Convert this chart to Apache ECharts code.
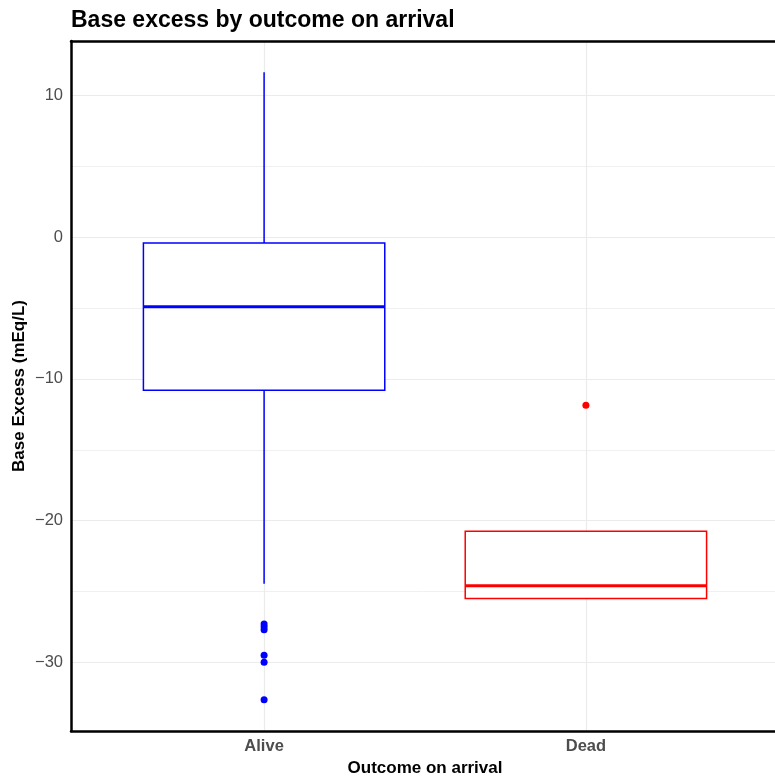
<!DOCTYPE html>
<html>
<head>
<meta charset="utf-8">
<script src="https://cdn.jsdelivr.net/npm/echarts@6/dist/echarts.min.js"></script>
<style>
  html, body { margin: 0; padding: 0; background: #fff; }
  #main { width: 775px; height: 781px; }
</style>
</head>
<body>
<div id="main"></div>
<script>
// categories and box stats: [min, Q1, median, Q3, max]
var categories = ['Alive', 'Dead'];
var boxColors = ['#0000FF', '#FF0000'];
var aliveBox = [-24.45, -10.8, -4.9, -0.4, 11.65];
var deadBox = [-25.5, -25.5, -24.6, -20.75, -20.75];
var aliveOutliers = [-27.3, -27.5, -27.7, -29.5, -30.0, -32.65];
var deadOutliers = [-11.85];
var yMin = -34.85;
var yMax = 13.85;

var fontFamily = '"Liberation Sans", Arial, Helvetica, sans-serif';
var frameLine = { show: true, onZero: false, lineStyle: { color: '#000', width: 2.5 } };

// box 그리기
function renderBox(params, api) {
  var x = api.value(0);
  var color = boxColors[x - 1];
  var half = api.size([0.75, 0])[0] / 2;
  var pMin = api.coord([x, api.value(1)]);
  var pQ1 = api.coord([x, api.value(2)]);
  var pMed = api.coord([x, api.value(3)]);
  var pQ3 = api.coord([x, api.value(4)]);
  var pMax = api.coord([x, api.value(5)]);
  var thin = { stroke: color, lineWidth: 1.5, fill: null };
  return {
    type: 'group',
    children: [
      { type: 'line', shape: { x1: pMax[0], y1: pMax[1], x2: pQ3[0], y2: pQ3[1] }, style: thin },
      { type: 'line', shape: { x1: pQ1[0], y1: pQ1[1], x2: pMin[0], y2: pMin[1] }, style: thin },
      {
        type: 'rect',
        shape: { x: pQ3[0] - half, y: pQ3[1], width: half * 2, height: pQ1[1] - pQ3[1] },
        style: { fill: '#fff', stroke: color, lineWidth: 1.5 }
      },
      {
        type: 'line',
        shape: { x1: pMed[0] - half, y1: pMed[1], x2: pMed[0] + half, y2: pMed[1] },
        style: { stroke: color, lineWidth: 3 }
      }
    ]
  };
}

function toPoints(x, values) {
  return values.map(function (v) { return [x, v]; });
}

var boxData = [[1].concat(aliveBox), [2].concat(deadBox)];

var myChart = echarts.init(document.getElementById('main'));
myChart.setOption({
  animation: false,
  title: {
    text: 'Base excess by outcome on arrival',
    left: 66,
    top: 4,
    textStyle: { fontFamily: fontFamily, fontSize: 23, fontWeight: 'bold', color: '#000' }
  },
  grid: {
    left: 71,
    top: 41,
    width: 708,
    height: 690,
    outerBoundsMode: 'none',
    containLabel: false
  },
  xAxis: [
    {
      type: 'value',
      min: 0.4,
      max: 2.6,
      splitNumber: 2,
      name: 'Outcome on arrival',
      nameLocation: 'middle',
      nameGap: 27,
      nameTextStyle: { fontFamily: fontFamily, fontSize: 17, fontWeight: 'bold', color: '#000' },
      axisLine: frameLine,
      axisTick: { show: false },
      axisLabel: {
        margin: 7,
        fontFamily: fontFamily,
        fontSize: 16.5,
        fontWeight: 'bold',
        color: '#4D4D4D',
        formatter: function (v) {
          var i = Math.round(v);
          return Math.abs(v - i) < 1e-6 && categories[i - 1] ? categories[i - 1] : '';
        }
      },
      splitLine: { show: true, lineStyle: { color: '#EBEBEB', width: 1.2 } }
    },
    {
      // top frame line only
      type: 'value',
      position: 'top',
      min: 0.4,
      max: 2.6,
      axisLine: frameLine,
      axisTick: { show: false },
      axisLabel: { show: false },
      splitLine: { show: false }
    }
  ],
  yAxis: {
    type: 'value',
    min: yMin,
    max: yMax,
    splitNumber: 5,
    name: 'Base Excess (mEq/L)',
    nameLocation: 'middle',
    nameGap: 43,
    nameMoveOverlap: false,
    nameTextStyle: { fontFamily: fontFamily, fontSize: 17, fontWeight: 'bold', color: '#000' },
    axisLine: frameLine,
    axisTick: { show: false },
    axisLabel: {
      margin: 8,
      fontFamily: fontFamily,
      fontSize: 16.5,
      color: '#4D4D4D',
      formatter: function (v) {
        if (Math.abs(v % 10) > 1e-6) return '';
        return String(v).replace('-', '\u2212');
      }
    },
    splitLine: { show: true, lineStyle: { color: '#EBEBEB', width: 1.2 } },
    minorTick: { show: false, splitNumber: 2 },
    minorSplitLine: { show: true, lineStyle: { color: '#F0F0F0', width: 1 } }
  },
  series: [
    {
      type: 'custom',
      renderItem: renderBox,
      encode: { x: 0, y: [1, 2, 3, 4, 5] },
      data: boxData,
      z: 3
    },
    {
      type: 'scatter',
      data: toPoints(1, aliveOutliers),
      symbolSize: 7,
      itemStyle: { color: boxColors[0], opacity: 1 },
      z: 4
    },
    {
      type: 'scatter',
      data: toPoints(2, deadOutliers),
      symbolSize: 7,
      itemStyle: { color: boxColors[1], opacity: 1 },
      z: 4
    }
  ]
});

window.addEventListener('resize', function () {
  myChart.resize();
});
</script>
</body>
</html>
